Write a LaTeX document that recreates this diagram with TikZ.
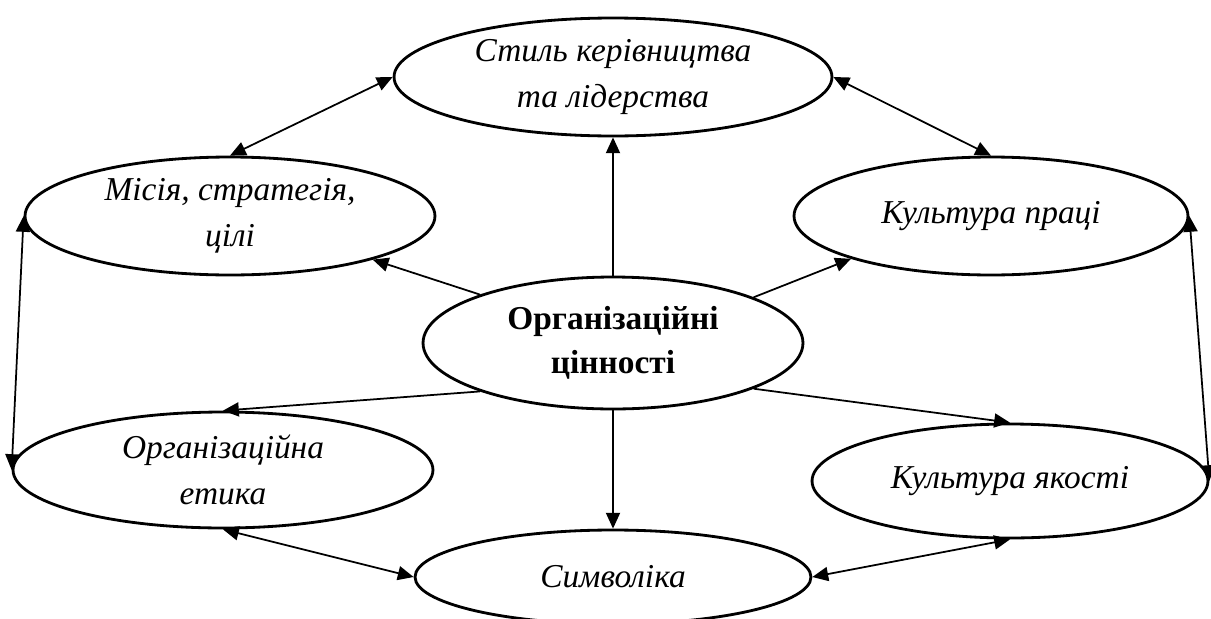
\documentclass[tikz,border=0pt]{standalone}
\usepackage{fontspec}
\setmainfont{Liberation Serif}
\usetikzlibrary{shapes.geometric,arrows.meta}

\begin{document}
\begin{tikzpicture}[x=0.02cm,y=-0.02cm,
  oval/.style={ellipse,draw,line width=1.6pt,inner sep=0pt,align=center,
    font=\itshape\fontsize{19}{26}\selectfont},
  link/.style={line width=1pt},
  >={Triangle[length=9pt,width=8pt]}]
 \useasboundingbox (0,0) rectangle (1211,619);

 \node[oval,minimum width=7.6cm,minimum height=2.64cm,
   font=\bfseries\fontsize{19}{25}\selectfont] (values) at (613,343) {Організаційні\\цінності};
 \node[oval,minimum width=8.76cm,minimum height=2.36cm] (lead) at (613,77) {Стиль керівництва\\та лідерства};
 \node[oval,minimum width=8.2cm,minimum height=2.36cm] (mission) at (230,216) {Місія, стратегія,\\цілі};
 \node[oval,minimum width=7.88cm,minimum height=2.36cm] (work) at (991,216) {Культура праці};
 \node[oval,minimum width=8.4cm,minimum height=2.32cm] (ethics) at (223,470) {Організаційна\\етика};
 \node[oval,minimum width=7.92cm,minimum height=2.28cm] (quality) at (1010,481) {Культура якості};
 \node[oval,minimum width=7.92cm,minimum height=1.88cm] (symbols) at (613,577) {Символіка};

 \draw[->,link] (values.north) -- (lead.south);
 \draw[->,link] (values.160) -- (mission.343);
 \draw[->,link] (values.18) -- (work.197);
 \draw[->,link] (values.200) -- (ethics.north);
 \draw[->,link] (values.342) -- (quality.north);
 \draw[->,link] (values.south) -- (symbols.north);

 \draw[<->,link] (mission.north) -- (lead.west);
 \draw[<->,link] (lead.east) -- (work.north);
 \draw[<->,link] (mission.west) -- (ethics.west);
 \draw[<->,link] (work.east) -- (quality.east);
 \draw[<->,link] (ethics.south) -- (symbols.west);
 \draw[<->,link] (symbols.east) -- (quality.south);

\end{tikzpicture}
\end{document}
